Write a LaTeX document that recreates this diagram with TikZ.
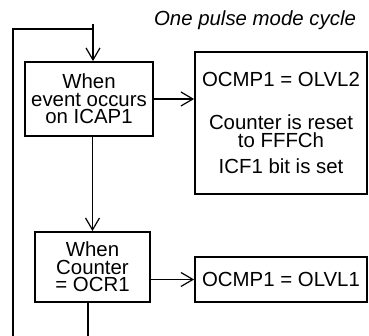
\documentclass[tikz,border=0pt]{standalone}
\usepackage{fontspec}
\setmainfont{Liberation Sans}
\usepackage{tikz}
\usetikzlibrary{positioning,arrows.meta}
\tikzstyle{box}   = [draw=black, line width=0.9pt, align=center, inner sep=0pt, font=\fontsize{10.2}{8.75}\selectfont]
\tikzstyle{arrow} = [line width=0.6pt, -{Straight Barb[length=6pt,width=7pt]}]
\tikzstyle{wire}  = [line width=0.9pt]

\begin{document}
\begin{tikzpicture}[x=0.5pt,y=0.5pt]
        \useasboundingbox (0,0) rectangle (369,336);

        \node[font=\fontsize{10.2}{12}\selectfont\itshape, anchor=base] (title) at (255,310) {One pulse mode cycle};

        \node[box, minimum width=64pt, minimum height=37pt] (event) at (89,237) {When\\event occurs\\on ICAP1};
        \node[box, minimum width=86pt, minimum height=71pt] (reset) at (281,213)
            {OCMP1 = OLVL2\\[13pt]Counter is reset\\to FFFCh\\[4.5pt]ICF1 bit is set};
        \node[box, minimum width=57.5pt, minimum height=35pt] (counter) at (92.5,69) {When\\Counter\\= OCR1};
        \node[box, minimum width=86pt, minimum height=22.5pt] (level) at (281,56.5) {OCMP1 = OLVL1};

        % loop back to the start
        \coordinate (out) at (88,0);
        \coordinate (corner) at (13,0);
        \coordinate (top) at (13,307);
        \coordinate (back) at (93,307);
        \draw[wire] (counter.south -| out) -- (out);
        \draw[wire] (corner) -- (top) -- (back) -- (back |- 0,312);
        \draw[arrow] (back |- 0,312) -- (back |- event.north);

        \draw[wire] (event.east) -- ++(32,0);
        \draw[arrow] (event.east) ++(30,0) -- (event.east -| reset.west);
        \draw[wire] (counter.north |- event.south) -- ++(0,-70);
        \draw[arrow] (counter.north |- event.south) ++(0,-68) -- (counter.north);
        \draw[wire] (counter.east |- level.west) -- ++(32,0);
        \draw[arrow] (counter.east |- level.west) ++(30,0) -- (level.west);
    \end{tikzpicture}
\end{document}
